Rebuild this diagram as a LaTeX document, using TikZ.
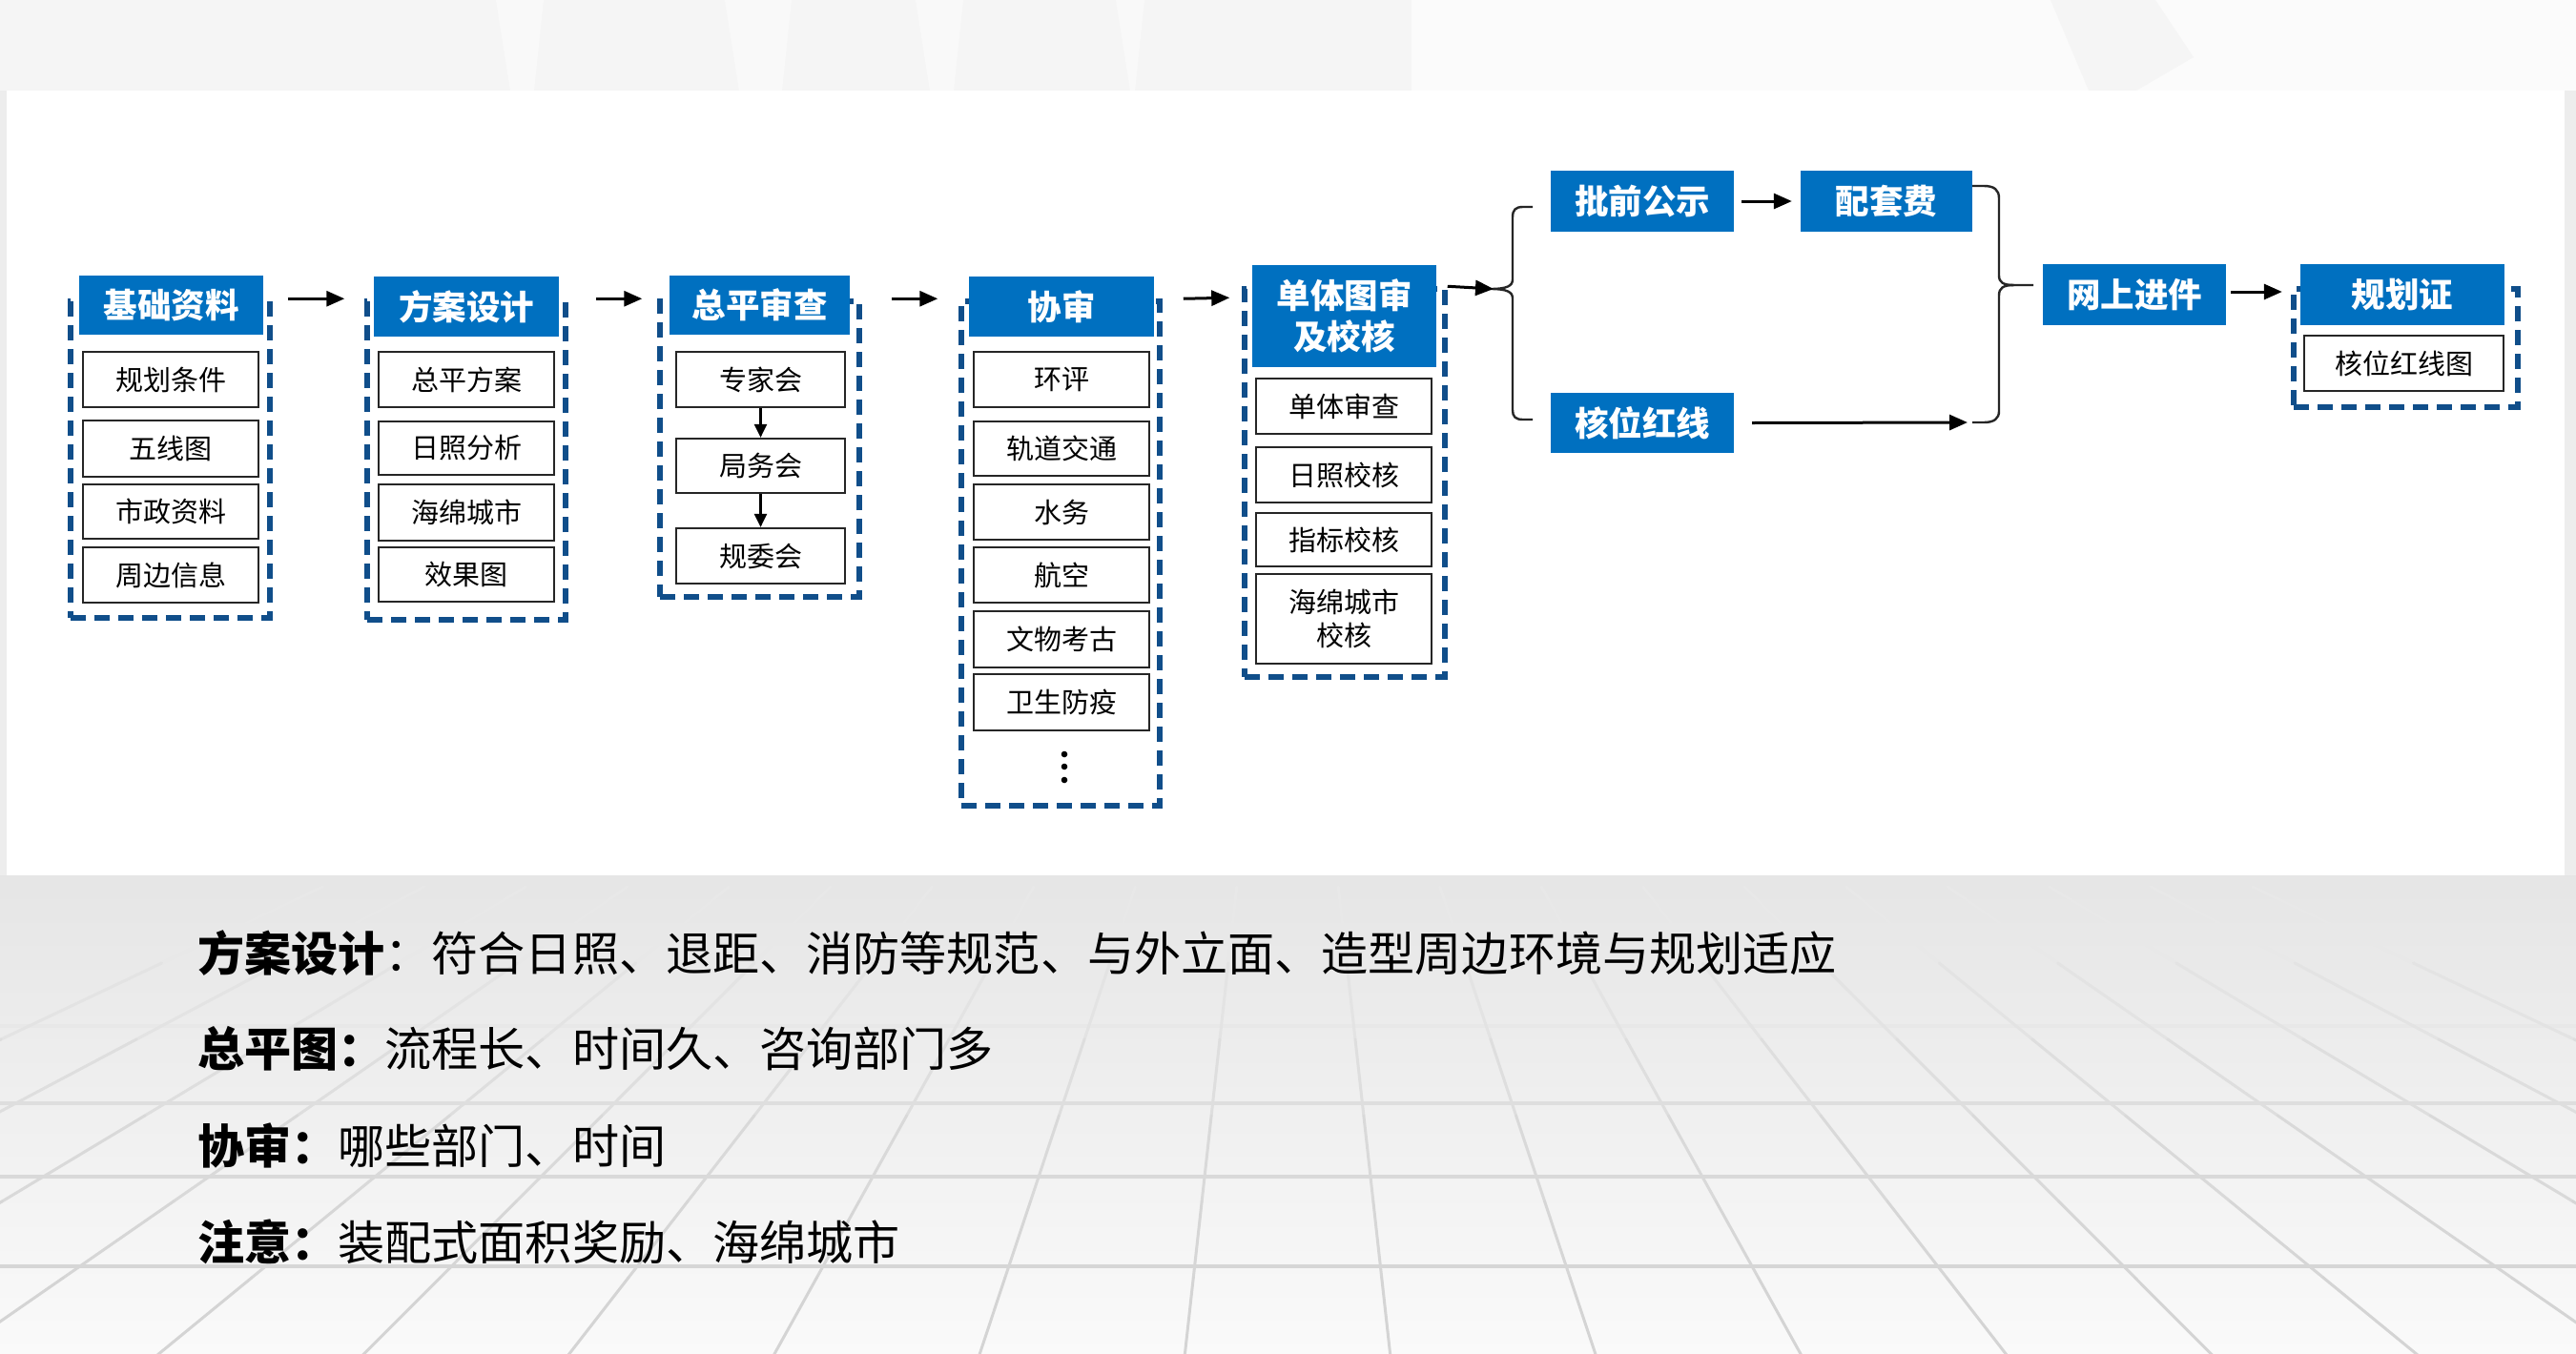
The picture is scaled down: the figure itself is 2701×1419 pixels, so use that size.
\documentclass[tikz,border=0pt]{standalone}
\usepackage{fontspec}
\setmainfont{Noto Sans CJK SC}
\usetikzlibrary{arrows.meta,calc}
\definecolor{hblue}{RGB}{0,112,192}
\definecolor{dblue}{RGB}{16,78,138}
\newcommand\boxat[7]{%
  \pgfmathsetmacro\mybw{#5-#3}\pgfmathsetmacro\mybh{#6-#4}%
  \pgfmathsetmacro\mybx{(#3+#5)/2}\pgfmathsetmacro\myby{(#4+#6)/2}%
  \node[#1, minimum width=\mybw pt, minimum height=\mybh pt] (#2) at (\mybx,\myby) {#7};}
\begin{document}
\begin{tikzpicture}[x=1pt,y=-1pt,
  hdr/.style={fill=hblue, text=white, inner sep=0pt, align=center, font=\bfseries\fontsize{35.5}{43}\selectfont},
  itm/.style={draw=black!85, fill=white, line width=2.2pt, inner sep=0pt, align=center, font=\fontsize{29}{35}\selectfont},
  dbx/.style={draw=dblue, line width=5.5pt, dash pattern=on 16pt off 9pt, inner sep=0pt},
  arr/.style={line width=3pt, -{Triangle[length=19pt,width=16pt]}},
  arrs/.style={line width=2.5pt, -{Triangle[length=14pt,width=13pt]}},
  brc/.style={line width=2.4pt, draw=black!85},
  btxt/.style={anchor=west, inner sep=0pt, font=\fontsize{49.1}{56}\selectfont}]
\useasboundingbox (0,0) rectangle (2701,1419);
% ---------- background ----------
\fill[black!7] (0,0) rectangle (2701,1419);
\fill[black!4] (0,0) rectangle (2701,95);
\fill[black!1.5] (1480,0) rectangle (2701,95);
\foreach \xa/\xb in {520/570, 760/830, 960/1010, 1170/1200}
  \fill[white, opacity=0.45] (\xa,0) -- (\xb,0) -- (\xb-10,95) -- (\xa+15,95) -- cycle;
\fill[black!4] (2150,0) -- (2260,0) -- (2300,60) -- (2240,95) -- (2190,95) -- cycle;
\begin{scope}
\clip (0,918) rectangle (2701,1419);
\shade[top color=black!10, bottom color=black!2] (0,918) rectangle (2701,1419);
\foreach \yy/\cc in {1076/9, 1157/13, 1234/15, 1328/16}
  \draw[line width=4pt, black!\cc] (0,\yy) -- (2701,\yy);
\foreach \k in {-10,...,9} {
  \foreach \ya/\yb/\cc in {930/1010/9, 1010/1090/11, 1090/1170/13, 1170/1260/15, 1260/1340/16, 1340/1430/17} {
    \pgfmathsetmacro\xa{1350+(\k+0.5)*215*((\ya-450)/969)}
    \pgfmathsetmacro\xc{1350+(\k+0.5)*215*((\yb-450)/969)}
    \draw[line width=3pt, black!\cc, line cap=round] (\xa,\ya) -- (\xc,\yb);
  }}
\end{scope}
\fill[white] (7,95) rectangle (2689,918);
% ---------- column 1 ----------
\boxat{dbx}{d1}{74}{316}{283}{648}{}
\boxat{hdr}{h1}{83}{289}{276}{351}{基础资料}
\boxat{itm}{c11}{87}{369}{271}{427}{规划条件}
\boxat{itm}{c12}{87}{441}{271}{500}{五线图}
\boxat{itm}{c13}{87}{508}{271}{565}{市政资料}
\boxat{itm}{c14}{87}{574}{271}{632}{周边信息}
% ---------- column 2 ----------
\boxat{dbx}{d2}{385}{316}{593}{650}{}
\boxat{hdr}{h2}{392}{290}{586}{353}{方案设计}
\boxat{itm}{c21}{397}{369}{581}{427}{总平方案}
\boxat{itm}{c22}{397}{442}{581}{498}{日照分析}
\boxat{itm}{c23}{397}{508}{581}{567}{海绵城市}
\boxat{itm}{c24}{397}{574}{581}{631}{效果图}
% ---------- column 3 ----------
\boxat{dbx}{d3}{692}{316}{901}{626}{}
\boxat{hdr}{h3}{702}{289}{891}{351}{总平审查}
\boxat{itm}{c31}{709}{369}{886}{427}{专家会}
\boxat{itm}{c32}{709}{460}{886}{517}{局务会}
\boxat{itm}{c33}{709}{554}{886}{612}{规委会}
\draw[arrs] (c31.south) -- (c32.north);
\draw[arrs] (c32.south) -- (c33.north);
% ---------- column 4 ----------
\boxat{dbx}{d4}{1008}{316}{1216}{845}{}
\boxat{hdr}{h4}{1016}{290}{1210}{353}{协审}
\boxat{itm}{c41}{1021}{369}{1205}{427}{环评}
\boxat{itm}{c42}{1021}{442}{1205}{499}{轨道交通}
\boxat{itm}{c43}{1021}{508}{1205}{566}{水务}
\boxat{itm}{c44}{1021}{574}{1205}{632}{航空}
\boxat{itm}{c45}{1021}{641}{1205}{700}{文物考古}
\boxat{itm}{c46}{1021}{707}{1205}{766}{卫生防疫}
\foreach \yy in {791,804,818} \fill (1116,\yy) circle (3.3pt);
% ---------- column 5 ----------
\boxat{dbx}{d5}{1305}{303}{1515}{710}{}
\boxat{hdr}{h5}{1313}{278}{1506}{385}{单体图审\\及校核}
\boxat{itm}{c51}{1317}{397}{1501}{455}{单体审查}
\boxat{itm}{c52}{1317}{469}{1501}{527}{日照校核}
\boxat{itm}{c53}{1317}{538}{1501}{594}{指标校核}
\boxat{itm}{c54}{1317}{602}{1501}{696}{海绵城市\\校核}
% ---------- column arrows ----------
\draw[arr] ([xshift=16pt]d1.north east) -- ([xshift=-21pt]d2.north west);
\draw[arr] ([xshift=29pt]d2.north east) -- ([xshift=-16pt]d3.north west);
\draw[arr] ([xshift=31pt]d3.north east) -- ([xshift=-22pt]d4.north west);
\draw[arr] ([xshift=22pt]d4.north east) -- ([xshift=-13pt,yshift=-12pt]d5.north west);
% ---------- right part ----------
\boxat{hdr}{p1}{1626}{179}{1818}{243}{批前公示}
\boxat{hdr}{p2}{1888}{179}{2068}{243}{配套费}
\boxat{hdr}{p3}{1626}{412}{1818}{475}{核位红线}
\boxat{hdr}{p4}{2142}{277}{2334}{341}{网上进件}
\boxat{dbx}{d6}{2405}{303}{2640}{427}{}
\boxat{hdr}{h6}{2412}{277}{2626}{341}{规划证}
\boxat{itm}{c61}{2416}{352}{2625}{410}{核位红线图}
% left brace
\coordinate (lbt) at (1566,303);
\draw[brc] (1607,217) -- (1597,217) .. controls (1589,217) and (1586,220) .. (1586,228)
  -- (1586,293) .. controls (1586,300) and (1580,303) .. (1562,303)
  .. controls (1580,303) and (1586,306) .. (1586,313)
  -- (1586,430) .. controls (1586,437) and (1589,440) .. (1597,440) -- (1607,440);
\draw[arr] (d5.north east) -- (lbt);
% right brace
\coordinate (rbb) at (2063,443);
\draw[brc] (2068,195) -- (2080,195) .. controls (2091,195) and (2096,199) .. (2096,208)
  -- (2096,289) .. controls (2096,296) and (2100,299) .. (2112,299) -- (2132,299);
\draw[brc] (2112,299) .. controls (2100,299) and (2096,302) .. (2096,310)
  -- (2096,431) .. controls (2096,439) and (2091,443) .. (2080,443) -- (2068,443);
\draw[arr] ([xshift=8pt]p1.east) -- ([xshift=-9pt]p2.west);
\draw[arr] ([xshift=19pt]p3.east) -- (rbb);
\draw[arr] ([xshift=5pt,yshift=3pt]p4.east) -- ([xshift=-19pt,yshift=3pt]h6.west);
% ---------- bottom text ----------
\node[btxt] (t1) at (207,1000) {\textbf{方案设计}：符合日照、退距、消防等规范、与外立面、造型周边环境与规划适应};
\node[btxt] (t2) at (207,1100) {\textbf{总平图：}流程长、时间久、咨询部门多};
\node[btxt] (t3) at (207,1201) {\textbf{协审：}哪些部门、时间};
\node[btxt] (t4) at (207,1302) {\textbf{注意：}装配式面积奖励、海绵城市};
\end{tikzpicture}
\end{document}
